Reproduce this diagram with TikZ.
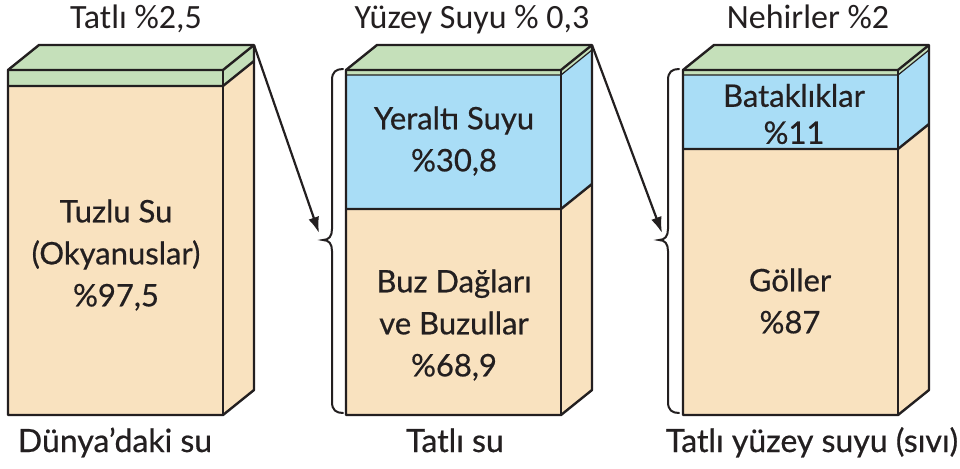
\documentclass[tikz,border=0pt]{standalone}
\usepackage{fontspec}
\setmainfont{Lato}
\newfontfamily\boxfont{Lato}[FakeBold=0.6]
\newfontfamily\topfont{Carlito}
\usetikzlibrary{arrows.meta}
\definecolor{tanc}{HTML}{F9E2BF}
\definecolor{grnc}{HTML}{C5E0BA}
\definecolor{bluc}{HTML}{A9DDF6}
\definecolor{ink}{HTML}{231F20}
\begin{document}
\begin{tikzpicture}[x=1pt,y=-1pt,
  edge/.style={draw=ink,line width=2.4pt,line join=round},
  thinedge/.style={draw=ink,line width=1.2pt},
  brace/.style={draw=ink,line width=2pt,line cap=round},
  arr/.style={draw=ink,line width=2.2pt,-{Latex[length=16pt,width=11pt]}},
  lbl/.style={font=\boxfont\fontsize{31}{42}\selectfont,text=ink,align=center,inner sep=0pt},
  toplbl/.style={font=\topfont\fontsize{34}{36}\selectfont,text=ink,inner sep=0pt,anchor=base},
  botlbl/.style={font=\boxfont\fontsize{32}{34}\selectfont,text=ink,inner sep=0pt,anchor=base}]
\useasboundingbox (0,0) rectangle (960,468);
\fill[white] (0,0) rectangle (960,468);
% ---------- Box 1 ----------
\fill[tanc] (8,86) rectangle (223,415);
\fill[grnc] (8,70) rectangle (223,86);
\fill[grnc] (8,70) -- (39,45) -- (254,45) -- (223,70) -- cycle;
\fill[grnc] (223,70) -- (254,45) -- (254,61) -- (223,86) -- cycle;
\fill[tanc] (223,86) -- (254,61) -- (254,390) -- (223,415) -- cycle;
\draw[edge] (8,86) -- (223,86) -- (254,61);
\draw[edge] (8,70) -- (223,70) -- (254,45);
\draw[edge] (223,70) -- (223,415);
\draw[edge] (8,70) -- (39,45) -- (254,45) -- (254,390) -- (223,415) -- (8,415) -- cycle;
% ---------- Box 2 ----------
\fill[tanc] (346,209) rectangle (561,415);
\fill[bluc] (346,75) rectangle (561,209);
\fill[grnc] (346,70) rectangle (561,75);
\fill[grnc] (346,70) -- (377,45) -- (592,45) -- (561,70) -- cycle;
\fill[grnc] (561,70) -- (592,45) -- (592,50) -- (561,75) -- cycle;
\fill[bluc] (561,75) -- (592,50) -- (592,184) -- (561,209) -- cycle;
\fill[tanc] (561,209) -- (592,184) -- (592,390) -- (561,415) -- cycle;
\draw[thinedge] (346,75) -- (561,75) -- (592,50);
\draw[edge] (346,209) -- (561,209) -- (592,184);
\draw[edge] (346,70) -- (561,70) -- (592,45);
\draw[edge] (561,70) -- (561,415);
\draw[edge] (346,70) -- (377,45) -- (592,45) -- (592,390) -- (561,415) -- (346,415) -- cycle;
% ---------- Box 3 ----------
\fill[tanc] (683,149) rectangle (898,415);
\fill[bluc] (683,75) rectangle (898,149);
\fill[grnc] (683,70) rectangle (898,75);
\fill[grnc] (683,70) -- (714,45) -- (929,45) -- (898,70) -- cycle;
\fill[grnc] (898,70) -- (929,45) -- (929,50) -- (898,75) -- cycle;
\fill[bluc] (898,75) -- (929,50) -- (929,124) -- (898,149) -- cycle;
\fill[tanc] (898,149) -- (929,124) -- (929,390) -- (898,415) -- cycle;
\draw[thinedge] (683,75) -- (898,75) -- (929,50);
\draw[edge] (683,149) -- (898,149) -- (929,124);
\draw[edge] (683,70) -- (898,70) -- (929,45);
\draw[edge] (898,70) -- (898,415);
\draw[edge] (683,70) -- (714,45) -- (929,45) -- (929,390) -- (898,415) -- (683,415) -- cycle;
% ---------- Braces ----------
\draw[brace] (343,69) .. controls (336,69) and (332,72) .. (332,80) -- (332,229)
  .. controls (332,236) and (329,240) .. (323,240)
  .. controls (329,240) and (332,244) .. (332,251) -- (332,402)
  .. controls (332,410) and (336,413) .. (343,413);
\draw[brace] (679,69) .. controls (672,69) and (668,72) .. (668,80) -- (668,229)
  .. controls (668,236) and (665,240) .. (659,240)
  .. controls (665,240) and (668,244) .. (668,251) -- (668,402)
  .. controls (668,410) and (672,413) .. (679,413);
% ---------- Arrows ----------
\coordinate (c1) at (254,45);
\coordinate (t1) at (319,233);
\coordinate (c2) at (592,45);
\coordinate (t2) at (662,233);
\draw[arr] (c1) -- (t1);
\draw[arr] (c2) -- (t2);
% ---------- Labels ----------
\node[toplbl] (top1) at (136,29) {Tatlı \%2,5};
\node[toplbl] (top2) at (472,29) {Yüzey Suyu \% 0,3};
\node[toplbl] (top3) at (808,29) {Nehirler \%2};
\node[lbl] (salt) at (116,255) {Tuzlu Su\\(Okyanuslar)\\\%97,5};
\node[lbl] (ground) at (454,141) {Yeraltı Suyu\\\%30,8};
\node[lbl] (ice) at (454,325) {Buz Dağları\\ve Buzullar\\\%68,9};
\node[lbl,font=\boxfont\fontsize{31}{37}\selectfont] (swamp) at (794,114) {Bataklıklar\\\%11};
\node[lbl] (lakes) at (790,301) {Göller\\\%87};
\node[botlbl] (bot1) at (115,452) {Dünya’daki su};
\node[botlbl] (bot2) at (455,452) {Tatlı su};
\node[botlbl] (bot3) at (812,452) {Tatlı yüzey suyu (sıvı)};
\end{tikzpicture}
\end{document}
